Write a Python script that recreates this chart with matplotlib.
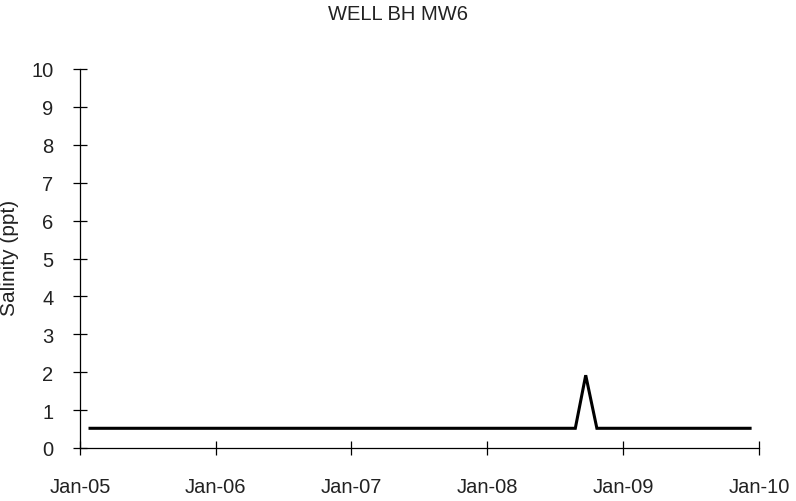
import matplotlib
matplotlib.use("Agg")
import matplotlib.pyplot as plt
import pandas as pd

dates = ["2005-01-28", "2008-08-25", "2008-09-22", "2008-10-22", "2009-12-08"]
salinity = [0.52, 0.52, 1.92, 0.52, 0.52]
xtick_dates = ["2005-01-01", "2006-01-01", "2007-01-01", "2008-01-01", "2009-01-01", "2010-01-01"]
xtick_labels = ["Jan-05", "Jan-06", "Jan-07", "Jan-08", "Jan-09", "Jan-10"]
yticks = list(range(0, 11))
title = "WELL BH MW6"
ylabel = "Salinity (ppt)"

plt.rcParams['font.family'] = ['Liberation Sans', 'DejaVu Sans']

fig = plt.figure(figsize=(7.96, 5.02), dpi=100)
ax = fig.add_axes([80/796, 53/502, 679/796, 379/502])

x = pd.to_datetime(dates)
ax.plot(x, salinity, color='black', linewidth=2.2, solid_joinstyle='miter')

xt = pd.to_datetime(xtick_dates)
ax.set_xlim(xt[0], xt[-1])
ax.set_ylim(0, 10)
ax.set_xticks(xt)
ax.set_xticklabels(xtick_labels)
ax.set_yticks(yticks)

for s in ['top', 'right']:
    ax.spines[s].set_visible(False)
for s in ['left', 'bottom']:
    ax.spines[s].set_linewidth(0.9)
    ax.spines[s].set_color('black')

ax.tick_params(axis='both', direction='inout', length=10, width=0.9, colors='black',
               labelsize=14.5, labelcolor='#222222')
ax.tick_params(axis='x', pad=16)
ax.tick_params(axis='y', pad=14)

fig.text(0.5, 1 - 15/502, title, ha='center', va='center', fontsize=14.5, color='#222222')
fig.text(10/796, 0.5 + (251 - 258)/502, ylabel, ha='center', va='center', rotation=90,
         fontsize=15, color='#222222')

fig.savefig("out.png", dpi=100)
